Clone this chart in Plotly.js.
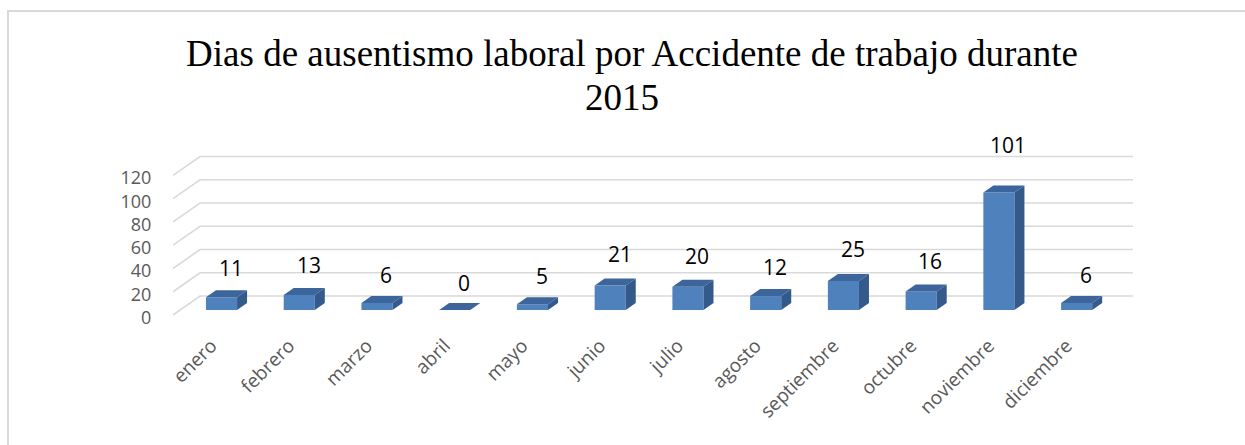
<!DOCTYPE html>
<html>
<head>
<meta charset="utf-8">
<script src="https://cdn.plot.ly/plotly-3.0.1.min.js"></script>
<style>html,body{margin:0;padding:0;background:#fff;}#chart{width:1245px;height:445px;}</style>
</head>
<body>
<div id="chart"></div>
<script>
// ---- data ----
var categories = ["enero","febrero","marzo","abril","mayo","junio","julio","agosto","septiembre","octubre","noviembre","diciembre"];
var values = [11, 13, 6, 0, 5, 21, 20, 12, 25, 16, 101, 6];
var yTicks = [0, 20, 40, 60, 80, 100, 120];
var titleLine1 = "Dias de ausentismo laboral por Accidente de trabajo durante";
var titleLine2 = "2015";

// ---- geometry / style ----
var idx = categories.map(function(_, i){ return i; });
var barW = 0.4, dX = 0.1286, dY = 6.0;
var frontCol = "#4f81bd", topCol = "#3c659c", sideCol = "#345a8c";
var gridCol = "#d9d9d9";
var xLeft = -0.624, xRight = 11.725, xSlant = -0.2766, labelShift = 0.13;

var shapes = [];
// back wall gridlines with slanted floor-side segment
yTicks.forEach(function(t){
  shapes.push({type:"path", xref:"x", yref:"y2", layer:"below",
    path:"M"+xLeft+","+(t-4.3)+" L"+xSlant+","+(t+12)+" L"+xRight+","+(t+12),
    line:{color:gridCol, width:1.6}});
});
// 3D faces of bars
values.forEach(function(v, i){
  var l = i - barW/2, r = i + barW/2;
  shapes.push({type:"path", xref:"x", yref:"y2", layer:"above",
    path:"M"+l+","+v+" L"+r+","+v+" L"+(r+dX)+","+(v+dY)+" L"+(l+dX)+","+(v+dY)+" Z",
    fillcolor:topCol, line:{width:0}});
  shapes.push({type:"path", xref:"x", yref:"y2", layer:"above",
    path:"M"+r+",0 L"+r+","+v+" L"+(r+dX)+","+(v+dY)+" L"+(r+dX)+","+dY+" Z",
    fillcolor:sideCol, line:{width:0}});
});
// chart border (top and left)
shapes.push({type:"path", xref:"paper", yref:"paper",
  path:"M-0.1719,-0.6 L-0.1719,1.595 L1.2,1.595", line:{color:"#d9d9d9", width:2}});

var annotations = values.map(function(v, i){
  return {x: i + 0.12, y: 1.172*v + 23.2, xref:"x", yref:"y2", text: String(v),
    showarrow:false, font:{family:"Open Sans", size:21, color:"#000"}};
});
annotations.push({x:0.468, xref:"paper", y:1.165, yref:"paper", yanchor:"middle", xanchor:"center",
  text: titleLine2, showarrow:false, font:{family:"Liberation Serif", size:37, color:"#000"}});

var traces = [{
  type:"bar", x: idx, y: values, xaxis:"x", yaxis:"y2", width: barW,
  marker:{color: frontCol, line:{width:0}}, hoverinfo:"x+y"
}, {
  type:"scatter", mode:"markers", x: idx, y: values, xaxis:"x2", yaxis:"y",
  marker:{opacity:0}, hoverinfo:"skip", showlegend:false
}];

var layout = {
  width:1245, height:445,
  margin:{l:173, r:112, t:130, b:115},
  paper_bgcolor:"#fff", plot_bgcolor:"rgba(0,0,0,0)",
  showlegend:false,
  title:{text: titleLine1, x:0.5076, xref:"container", y:0.88, yref:"container", yanchor:"middle",
    font:{family:"Liberation Serif", size:37, color:"#000"}},
  xaxis:{range:[xLeft, xRight], showticklabels:false, showgrid:false, zeroline:false,
    showline:false, ticks:"", fixedrange:true},
  xaxis2:{range:[xLeft + labelShift, xRight + labelShift], overlaying:"x", anchor:"y",
    tickmode:"array", tickvals: idx, ticktext: categories,
    tickangle:-45, showgrid:false, zeroline:false, showline:false, ticks:"",
    tickfont:{family:"Open Sans", size:19, color:"#595959"}, fixedrange:true},
  yaxis:{range:[-10.75, 161.22], tickmode:"array", tickvals: yTicks,
    showgrid:false, zeroline:false, showline:false, ticks:"outside", ticklen:17,
    tickcolor:"rgba(0,0,0,0)", tickfont:{family:"Open Sans", size:18, color:"#595959"}, fixedrange:true},
  yaxis2:{range:[-17.2, 154.77], overlaying:"y", showgrid:false, zeroline:false,
    showline:false, showticklabels:false, ticks:"", fixedrange:true},
  shapes: shapes,
  annotations: annotations
};

Plotly.newPlot("chart", traces, layout, {displayModeBar:false, staticPlot:true});
</script>
</body>
</html>
